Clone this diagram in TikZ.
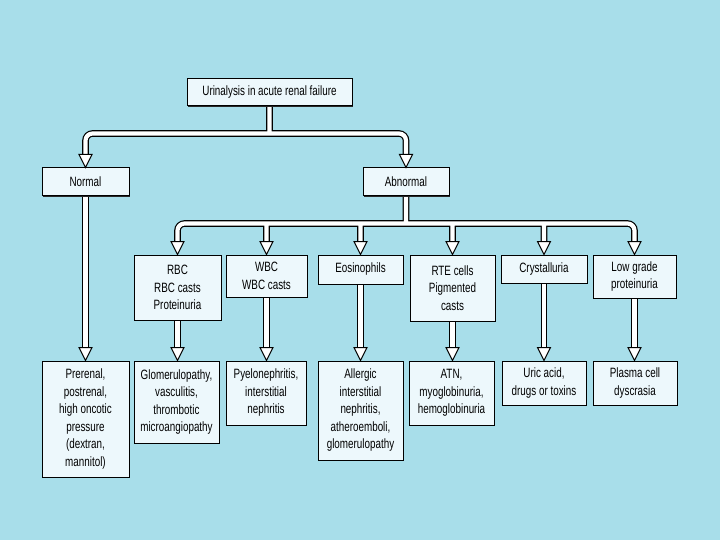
\documentclass[tikz,border=0pt]{standalone}
\usepackage{fontspec}
\setmainfont{Liberation Sans}[FakeStretch=0.73]
\usetikzlibrary{calc,shadows}
\pgfdeclarelayer{bgl}\pgfdeclarelayer{lns}\pgfsetlayers{bgl,lns,main}
\definecolor{bgblue}{RGB}{168,222,234}
\definecolor{boxfill}{RGB}{237,248,252}
\tikzset{
 box/.style={draw=black, line width=1pt, fill=boxfill, inner sep=0pt, align=center,
   font=\fontsize{13.5}{17.5}\selectfont,
   drop shadow={shadow xshift=1.2pt,shadow yshift=-1.2pt,fill=black!85,opacity=1}},
 lineout/.style={line width=6.6pt, draw=black, rounded corners=7pt},
 linein/.style={line width=4.2pt, draw=white, rounded corners=7pt},
 headst/.style={draw=black, line width=1pt, fill=white, line join=miter},
}
\newcommand\dbl[1]{\begin{pgfonlayer}{lns}\draw[lineout] #1;\draw[linein] #1;\end{pgfonlayer}}
\newcommand\ahd[1]{\draw[headst] #1 -- ++(-6.5,-13) -- ++(13,0) -- cycle;}
\begin{document}
\begin{tikzpicture}[x=1pt,y=-1pt]
\begin{pgfonlayer}{bgl}
\fill[bgblue] (0,0) rectangle (720,540);
\end{pgfonlayer}
\useasboundingbox (0,0) rectangle (720,540);

\node[box, minimum width=165pt, minimum height=27pt] (top) at (269.5,92.5) {Urinalysis in acute renal failure};
\node[box, minimum width=87pt, minimum height=28pt] (normal) at (85.5,182) {Normal};
\node[box, minimum width=86pt, minimum height=28pt] (abnormal) at (406,182) {Abnormal};

\node[box, minimum width=87pt, minimum height=65pt] (rbc) at (177.5,287.5) {RBC\\RBC casts\\Proteinuria};
\node[box, minimum width=81pt, minimum height=42pt] (wbc) at (266.5,276) {WBC\\WBC casts};
\node[box, minimum width=85pt, minimum height=29pt] (eos) at (360.5,269.5) {Eosinophils};
\node[box, minimum width=85pt, minimum height=66pt] (rte) at (452.5,288) {RTE cells\\Pigmented\\casts};
\node[box, minimum width=86pt, minimum height=28pt] (cry) at (544,269) {Crystalluria};
\node[box, minimum width=83pt, minimum height=43pt] (low) at (634.5,276.5) {Low grade\\proteinuria};

\node[box, minimum width=87pt, minimum height=116pt] (pre) at (85.5,419) {Prerenal,\\postrenal,\\high oncotic\\pressure\\(dextran,\\mannitol)};
\node[box, minimum width=85pt, minimum height=82pt] (glo) at (176.5,402) {Glomerulopathy,\\vasculitis,\\thrombotic\\microangiopathy};
\node[box, minimum width=80pt, minimum height=64pt] (pye) at (266,393) {Pyelonephritis,\\interstitial\\nephritis};
\node[box, minimum width=85pt, minimum height=99pt] (all) at (360.5,410.5) {Allergic\\interstitial\\nephritis,\\atheroemboli,\\glomerulopathy};
\node[box, minimum width=85pt, minimum height=64pt] (atn) at (451.5,393) {ATN,\\myoglobinuria,\\hemoglobinuria};
\node[box, minimum width=84pt, minimum height=44pt] (uri) at (544,383) {Uric acid,\\drugs or toxins};
\node[box, minimum width=84pt, minimum height=44pt] (pla) at (635,383) {Plasma cell\\dyscrasia};

\coordinate (b1) at (269.5,133.5);
\coordinate (b2) at (406,223.5);

\dbl{($(normal.north)+(0,-13)$) |- (b1) -| ($(abnormal.north)+(0,-13)$) (top.south) -- (b1)}
\dbl{($(rbc.north)+(0,-13)$) |- (b2) -| ($(low.north)+(0,-13)$) (abnormal.south) -- (b2)
  (wbc.north |- b2) -- ($(wbc.north)+(0,-13)$)
  (eos.north |- b2) -- ($(eos.north)+(0,-13)$)
  (rte.north |- b2) -- ($(rte.north)+(0,-13)$)
  (cry.north |- b2) -- ($(cry.north)+(0,-13)$)}
\dbl{(normal.south) -- ($(normal.south |- pre.north)+(0,-13)$)
  (rbc.south) -- ($(rbc.south |- glo.north)+(0,-13)$)
  (wbc.south) -- ($(wbc.south |- pye.north)+(0,-13)$)
  (eos.south) -- ($(eos.south |- all.north)+(0,-13)$)
  (rte.south) -- ($(rte.south |- atn.north)+(0,-13)$)
  (cry.south) -- ($(cry.south |- uri.north)+(0,-13)$)
  (low.south) -- ($(low.south |- pla.north)+(0,-13)$)}

\ahd{(normal.north)}
\ahd{(abnormal.north)}
\ahd{(rbc.north)}
\ahd{(wbc.north)}
\ahd{(eos.north)}
\ahd{(rte.north)}
\ahd{(cry.north)}
\ahd{(low.north)}
\ahd{(normal.south |- pre.north)}
\ahd{(rbc.south |- glo.north)}
\ahd{(wbc.south |- pye.north)}
\ahd{(eos.south |- all.north)}
\ahd{(rte.south |- atn.north)}
\ahd{(cry.south |- uri.north)}
\ahd{(low.south |- pla.north)}
\end{tikzpicture}
\end{document}
